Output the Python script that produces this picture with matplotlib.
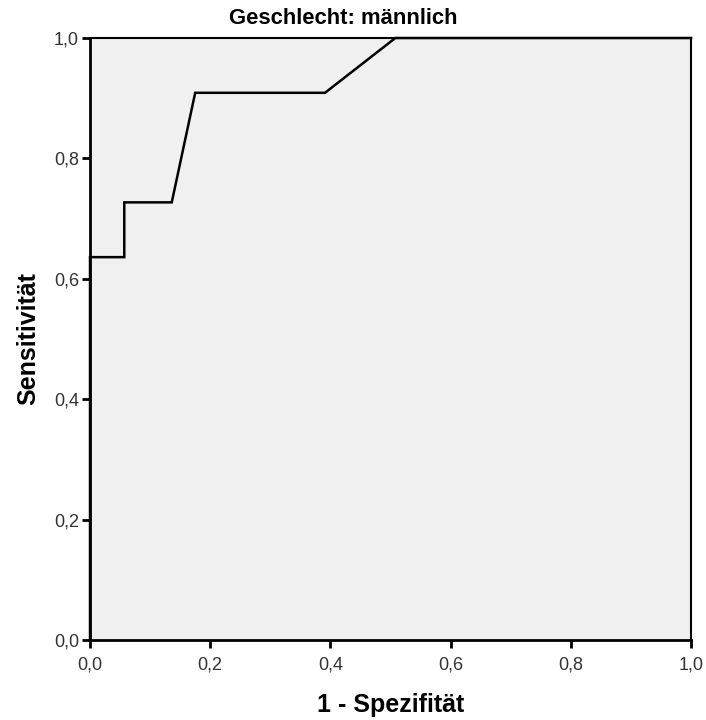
import matplotlib
matplotlib.use("Agg")
import matplotlib.pyplot as plt

plt.rcParams['font.family'] = ['Liberation Sans', 'DejaVu Sans']

# ROC curve
fpr = [0.0, 0.0, 0.057, 0.057, 0.136, 0.175, 0.391, 0.508, 1.0]
tpr = [0.0, 0.636, 0.636, 0.727, 0.727, 0.909, 0.909, 1.0, 1.0]
ticks = [0.0, 0.2, 0.4, 0.6, 0.8, 1.0]
tick_labels = ["0,0", "0,2", "0,4", "0,6", "0,8", "1,0"]

fig = plt.figure(figsize=(7.06, 7.2), dpi=100)
ax = fig.add_axes([0.1275, 0.1111, 0.8513, 0.8361])
ax.set_facecolor('#f0f0f0')

ax.plot(fpr, tpr, color='black', lw=1.8, solid_joinstyle='miter', clip_on=False)

ax.set_xlim(0, 1)
ax.set_ylim(0, 1)
ax.set_xticks(ticks)
ax.set_xticklabels(tick_labels)
ax.set_yticks(ticks)
ax.set_yticklabels(tick_labels)
ax.tick_params(direction='out', length=6, width=2, labelsize=13,
               labelcolor='#333333')
ax.tick_params(axis='x', pad=6)
ax.tick_params(axis='y', pad=2)
for s in ax.spines.values():
    s.set_linewidth(1.5)
ax.spines['left'].set_linewidth(2)
ax.spines['bottom'].set_linewidth(2)

# title sits left of the axes centre in the original
fig.text(0.486, 0.974, "Geschlecht: männlich", fontsize=15.8, fontweight='bold',
         ha='center', va='center')
ax.set_xlabel("1 - Spezifität", fontsize=18, fontweight='bold', labelpad=14)
ax.set_ylabel("Sensitivität", fontsize=18, fontweight='bold', labelpad=10)

fig.savefig("out.png", dpi=100)
